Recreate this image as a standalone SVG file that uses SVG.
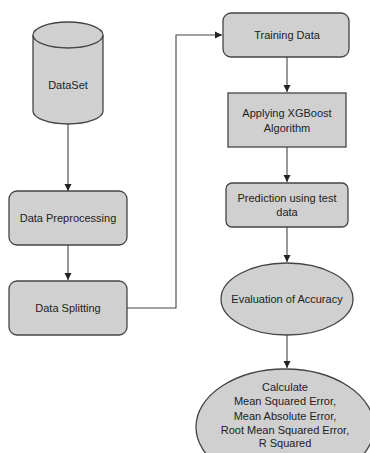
<svg xmlns="http://www.w3.org/2000/svg" width="370" height="453" viewBox="0 0 370 453">
<defs>
<marker id="ah" markerWidth="8" markerHeight="8" refX="7" refY="4" orient="auto" markerUnits="userSpaceOnUse">
<path d="M0,0.5 L7,4 L0,7.5 Z" fill="#222"/>
</marker>
</defs>
<style>
.n{fill:#d0d0d0;stroke:#444;stroke-width:1.3}
.t{font-family:"Liberation Sans",Arial,sans-serif;font-size:11px;fill:#222;text-anchor:middle}
.c{fill:none;stroke:#444;stroke-width:1.1}
</style>
<rect width="370" height="453" fill="#fff"/>
<g id="connectors">
<line class="c" x1="68" y1="124" x2="68" y2="191" marker-end="url(#ah)"/>
<line class="c" x1="68" y1="245" x2="68" y2="280" marker-end="url(#ah)"/>
<polyline class="c" points="127,308 176,308 176,35 222,35" marker-end="url(#ah)"/>
<line class="c" x1="287" y1="57" x2="287" y2="92" marker-end="url(#ah)"/>
<line class="c" x1="287" y1="147" x2="287" y2="182" marker-end="url(#ah)"/>
<line class="c" x1="287" y1="227" x2="287" y2="262" marker-end="url(#ah)"/>
<line class="c" x1="287" y1="335" x2="287" y2="368" marker-end="url(#ah)"/>
</g>
<g id="dataset">
<path class="n" d="M33,35 L33,111 A35,13 0 0 0 103,111 L103,35"/>
<ellipse class="n" cx="68" cy="35" rx="35" ry="13"/>
<text class="t" x="68" y="89">DataSet</text>
</g>
<g id="preprocessing">
<rect class="n" x="9" y="191" width="118" height="54" rx="8"/>
<text class="t" x="68" y="222">Data Preprocessing</text>
</g>
<g id="splitting">
<rect class="n" x="9" y="281" width="118" height="54" rx="8"/>
<text class="t" x="68" y="312">Data Splitting</text>
</g>
<g id="training">
<rect class="n" x="223" y="13" width="126" height="44" rx="8"/>
<text class="t" x="287" y="39">Training Data</text>
</g>
<g id="xgboost">
<rect class="n" x="228" y="93" width="118" height="54"/>
<text class="t" x="287" y="117">Applying XGBoost</text>
<text class="t" x="287" y="132">Algorithm</text>
</g>
<g id="prediction">
<rect class="n" x="226" y="183" width="122" height="44" rx="6"/>
<text class="t" x="287" y="202">Prediction using test</text>
<text class="t" x="287" y="216">data</text>
</g>
<g id="evaluation">
<ellipse class="n" cx="287" cy="299" rx="66" ry="36"/>
<text class="t" x="287" y="303">Evaluation of Accuracy</text>
</g>
<g id="calculate">
<ellipse class="n" cx="285" cy="427" rx="89" ry="58"/>
<text class="t" x="285" y="391">Calculate</text>
<text class="t" x="285" y="405">Mean Squared Error,</text>
<text class="t" x="285" y="420">Mean Absolute Error,</text>
<text class="t" x="285" y="434">Root Mean Squared Error,</text>
<text class="t" x="285" y="447">R Squared</text>
</g>
</svg>
